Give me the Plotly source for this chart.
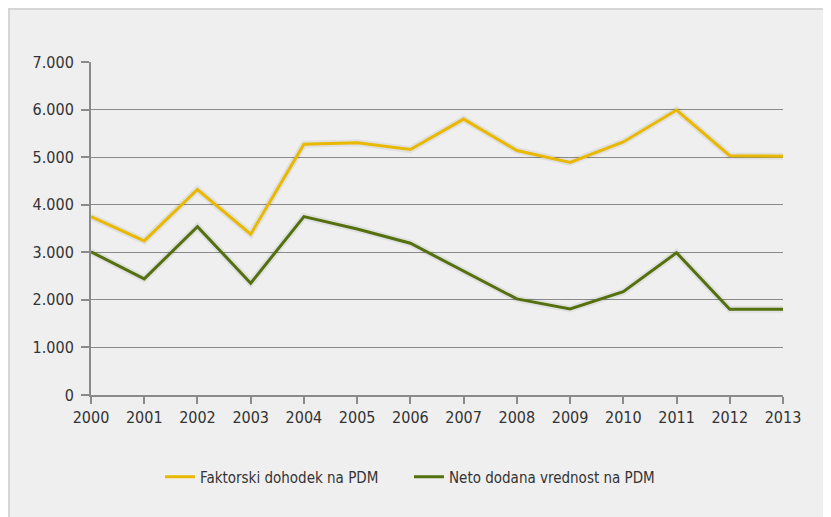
import plotly.graph_objects as go

years = list(range(2000, 2014))
faktorski = [3750, 3240, 4320, 3380, 5270, 5300, 5160, 5800, 5140, 4890, 5320, 5990, 5030, 5020]
neto = [3010, 2440, 3540, 2350, 3750, 3490, 3190, 2610, 2020, 1810, 2170, 2990, 1800, 1800]
y_ticks = [0, 1000, 2000, 3000, 4000, 5000, 6000, 7000]

FONT = "DejaVu Sans Condensed, Liberation Sans Narrow, Arial Narrow, sans-serif"
GRID = "#8a8a8a"
YELLOW = "#E9B800"
GREEN = "#54700F"

fig = go.Figure()

# soft shadow under each line
for vals in (faktorski, neto):
    fig.add_trace(go.Scatter(
        x=years, y=vals, mode="lines", showlegend=False, hoverinfo="skip",
        line=dict(color="rgba(0,0,0,0.06)", width=7),
    ))

fig.add_trace(go.Scatter(
    x=years, y=faktorski, mode="lines", name="Faktorski dohodek na PDM",
    line=dict(color=YELLOW, width=3), legend="legend",
))
fig.add_trace(go.Scatter(
    x=years, y=neto, mode="lines", name="Neto dodana vrednost na PDM",
    line=dict(color=GREEN, width=3), legend="legend2",
))

# grey framed panel (border on top and left like the source)
fig.add_shape(
    type="rect", xref="paper", yref="paper",
    x0=-82 / 692, x1=1.3, y0=-0.6, y1=1 + 53 / 333,
    fillcolor="#EFEFEF", line=dict(color="#D6D6D6", width=2), layer="below",
)

leg = dict(
    orientation="h", xanchor="left", y=-0.246, yanchor="middle",
    font=dict(family=FONT, size=15, color="#333333"),
    bgcolor="rgba(0,0,0,0)",
)

fig.update_layout(
    width=823, height=509,
    paper_bgcolor="white",
    plot_bgcolor="rgba(0,0,0,0)",
    separators=",.",
    font=dict(family=FONT, size=16, color="#333333"),
    margin=dict(l=83, r=48, t=54, b=122),
    showlegend=True,
    legend=dict(leg, x=69 / 692),
    legend2=dict(leg, x=318 / 692),
    xaxis=dict(
        range=[2000, 2013], tickvals=years, showgrid=False,
        showline=True, linecolor=GRID, linewidth=2,
        ticks="outside", ticklen=7, tickcolor=GRID, tickwidth=2,
        zeroline=False,
    ),
    yaxis=dict(
        range=[0, 7000], tickvals=y_ticks, tickformat=",d",
        showgrid=True, gridcolor=GRID, gridwidth=1.3,
        showline=True, linecolor=GRID, linewidth=2,
        ticks="outside", ticklen=8, tickcolor=GRID, tickwidth=2,
        ticklabelstandoff=4, zeroline=False,
    ),
)

fig.write_html("out.html")
